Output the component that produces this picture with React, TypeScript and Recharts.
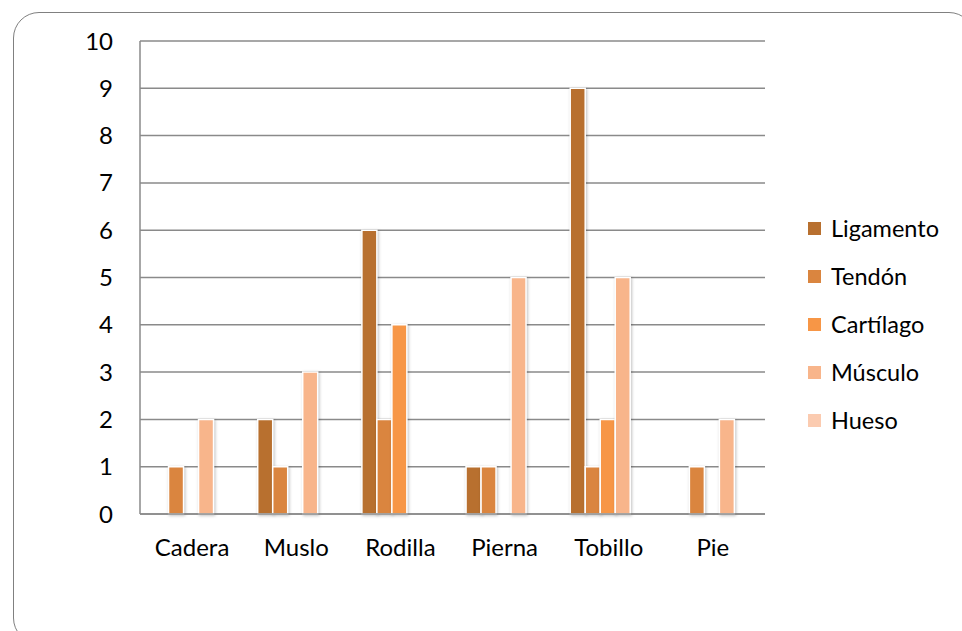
import { BarChart, Bar, XAxis, YAxis, CartesianGrid, Legend } from "recharts";

const zonas = ["Cadera", "Muslo", "Rodilla", "Pierna", "Tobillo", "Pie"];
const ligamento = [0, 2, 6, 1, 9, 0];
const tendon = [1, 1, 2, 1, 1, 1];
const cartilago = [0, 0, 4, 0, 2, 0];
const musculo = [2, 3, 0, 5, 5, 2];
const hueso = [0, 0, 0, 0, 0, 0];
const yTicks = [0, 1, 2, 3, 4, 5, 6, 7, 8, 9, 10];

const series = [
  { key: "Ligamento", values: ligamento, color: "#B8702F" },
  { key: "Tendón", values: tendon, color: "#DA853F" },
  { key: "Cartílago", values: cartilago, color: "#F79646" },
  { key: "Músculo", values: musculo, color: "#F8B58B" },
  { key: "Hueso", values: hueso, color: "#FBCBB0" },
];

const data = zonas.map((zona, i) => {
  const row: Record<string, string | number> = { zona };
  series.forEach((s) => (row[s.key] = s.values[i]));
  return row;
});

const FONT = "Lato, 'Open Sans', sans-serif";
const FS = 24;
const GRID = "#8a8a8a";

// legend keeps the series order instead of sorting by name
function LegendList() {
  return (
    <div style={{ fontFamily: FONT, fontSize: FS - 0.5, color: "#000" }}>
      {series.map((s) => (
        <div key={s.key} style={{ height: 48, display: "flex", alignItems: "center" }}>
          <span
            style={{
              width: 13,
              height: 13,
              background: s.color,
              display: "inline-block",
              marginRight: 10,
            }}
          />
          {s.key}
        </div>
      ))}
    </div>
  );
}

export default function App() {
  return (
    <div
      style={{
        position: "fixed",
        left: 0,
        top: 0,
        width: 962,
        height: 631,
        overflow: "hidden",
        background: "#fff",
      }}
    >
      <div
        style={{
          position: "absolute",
          left: 13,
          top: 12,
          width: 960,
          height: 630,
          border: "1.5px solid #808080",
          borderRadius: 26,
        }}
      />
      <div style={{ position: "absolute", left: 0, top: 0 }}>
        <BarChart
          width={962}
          height={631}
          data={data}
          margin={{ top: 41, right: 197, bottom: 77, left: 0 }}
          barCategoryGap="13%"
          barGap={0}
        >
          <CartesianGrid vertical={false} stroke={GRID} strokeWidth={1.5} />
          <XAxis
            dataKey="zona"
            height={40}
            axisLine={{ stroke: GRID, strokeWidth: 1.5 }}
            tickLine={false}
            tickMargin={19}
            tick={{ fill: "#000", fontSize: FS, fontFamily: FONT }}
          />
          <YAxis
            width={140}
            domain={[0, 10]}
            ticks={yTicks}
            interval={0}
            axisLine={{ stroke: GRID, strokeWidth: 1.5 }}
            tickLine={false}
            tickMargin={21}
            tick={{ fill: "#000", fontSize: FS, fontFamily: FONT }}
          />
          <Legend
            layout="vertical"
            align="center"
            verticalAlign="middle"
            wrapperStyle={{ left: 808, top: 204, width: 150 }}
            content={LegendList}
          />
          {series.map((s) => (
            <Bar
              key={s.key}
              dataKey={s.key}
              fill={s.color}
              stroke="#fff"
              strokeWidth={1.5}
              isAnimationActive={false}
              style={{ filter: "drop-shadow(1px 1px 1.5px rgba(0,0,0,0.25))" }}
            />
          ))}
        </BarChart>
      </div>
    </div>
  );
}
